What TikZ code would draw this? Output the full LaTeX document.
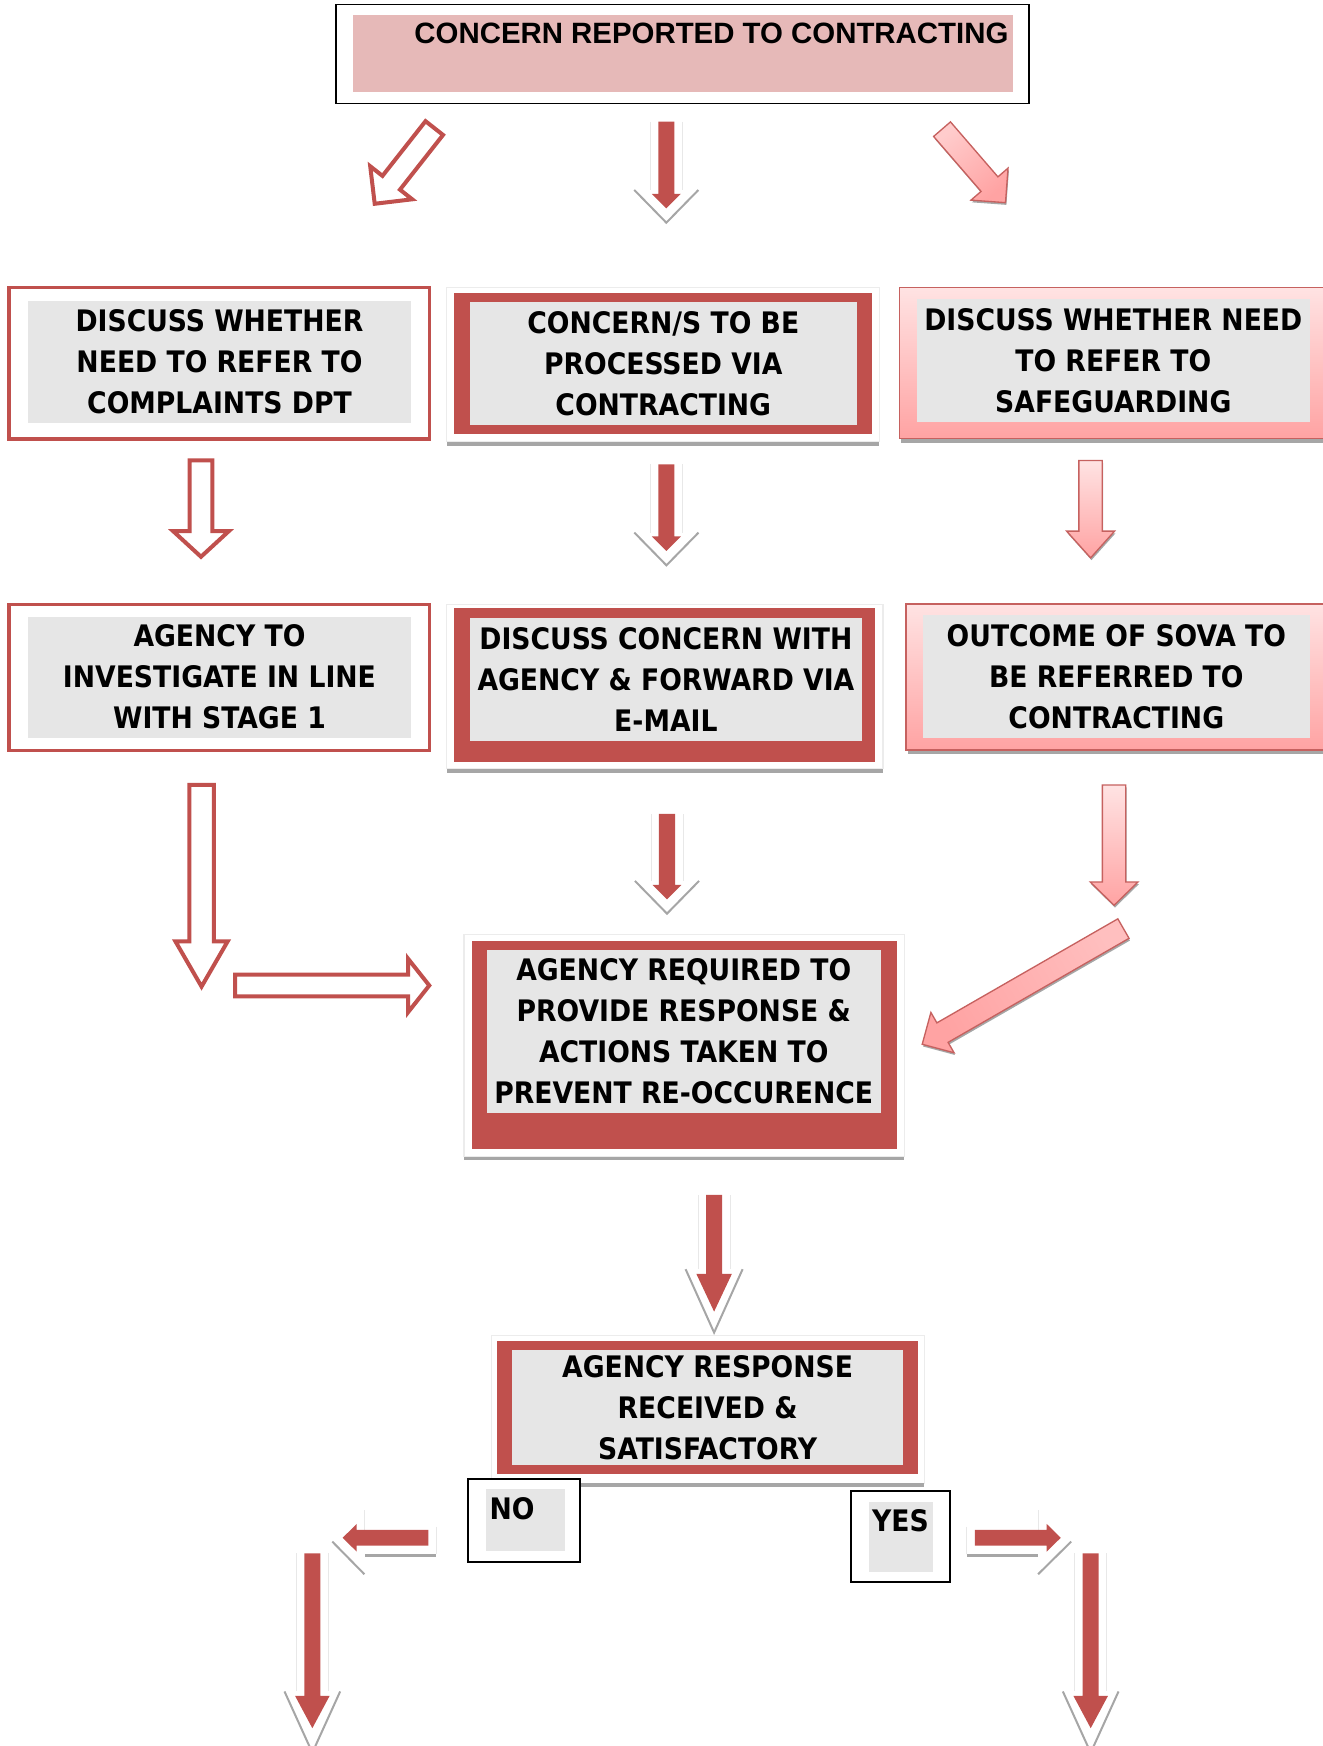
\documentclass[tikz,border=0pt]{standalone}
\usepackage{fontspec}
\newfontfamily\cajafont{DejaVu Sans Condensed}
\newfontfamily\titulofont{Liberation Sans}
\usetikzlibrary{calc}

\definecolor{rojo}{HTML}{C0504D}
\definecolor{grisclaro}{HTML}{E6E6E6}
\definecolor{rosa}{HTML}{E6B9B8}
\definecolor{rosaclaro}{HTML}{FFE3E3}
\definecolor{rosafuerte}{HTML}{FFA3A3}
\definecolor{sombra}{HTML}{A6A6A6}

% flecha de bloque: [estilo]{cola}{punta}{medio ancho}{medio ancho cabeza}{largo cabeza}
\newcommand{\flecha}[6][]{%
  \coordinate (fc) at ($(#3)!#6!(#2)$);
  \path[#1] ($(#2)!#4!90:(#3)$) -- ($(fc)!#4!90:(#3)$) -- ($(fc)!#5!90:(#3)$) -- (#3)
    -- ($(fc)!#5!-90:(#3)$) -- ($(fc)!#4!-90:(#3)$) -- ($(#2)!#4!-90:(#3)$) -- cycle;}

% halo gris: {cola}{punta}{medio ancho V}{base V antes de la punta}{punta V despues}
\newcommand{\halo}[5]{%
  \coordinate (hb) at ($(#2)!#4!(#1)$);
  \coordinate (ht) at ($(#2)!-#5!(#1)$);
  \draw[lineahalo] ($(#1)!7.2pt!90:(#2)$) -- ($(hb)!7.2pt!90:(ht)$);
  \draw[lineahalo] ($(#1)!7.2pt!-90:(#2)$) -- ($(hb)!7.2pt!-90:(ht)$);
  \draw[vgris] ($(hb)!#3!90:(ht)$) -- (ht) -- ($(hb)!#3!-90:(ht)$);}

\tikzset{
  cajagris/.style={fill=grisclaro, inner sep=0pt, align=center,
    font={\cajafont\bfseries\fontsize{13.3pt}{18.4pt}\selectfont}},
  marcorojo/.style={draw=rojo, line width=1.5pt},
  contenedor/.style={draw=gray!15, line width=0.5pt, fill=white},
  hueca/.style={draw=rojo, line width=1.8pt, fill=white},
  roja/.style={fill=rojo},
  rosada/.style={draw=rojo!90, line width=0.6pt, top color=rosaclaro, bottom color=rosafuerte},
  sombrarosa/.style={fill=sombra, transform canvas={xshift=0.4pt, yshift=-1pt}},
  vgris/.style={draw=sombra, line width=0.9pt},
  lineahalo/.style={draw=gray!18, line width=0.4pt},
  respuesta/.style={font={\cajafont\bfseries\fontsize{13.3pt}{16pt}\selectfont}, inner sep=0pt}
}

\begin{document}
\begin{tikzpicture}[x=0.5pt, y=-0.5pt]
  \useasboundingbox (0,0) rectangle (1188,1568);
  \clip (0,0) rectangle (1188,1568);

  % Caja superior
  \draw[line width=0.75pt] (302,4) rectangle (924,93);
  \node[fill=rosa, minimum width=296.5pt, minimum height=34.75pt, inner sep=0pt] (c0) at (613.5,48.25) {};
  \node[anchor=base east, inner sep=0pt, font={\titulofont\bfseries\fontsize{13.2pt}{15pt}\selectfont}]
    (c0t) at (906,38.9) {CONCERN REPORTED TO CONTRACTING};

  % Primera fila: queja, contratacion, proteccion
  \draw[marcorojo] (8.1,258.3) rectangle (385.5,394.2);
  \node[cajagris, minimum width=171.7pt, minimum height=54.75pt] (l1) at (197.1,324.75)
    {DISCUSS WHETHER\\NEED TO REFER TO\\COMPLAINTS DPT};

  \draw[contenedor] (401,258) rectangle (789.6,396.6);
  \fill[sombra] (401,396.6) rectangle (789.6,400.5);
  \fill[rojo] (408,262.8) rectangle (782.8,390);
  \node[cajagris, minimum width=173.65pt, minimum height=55.05pt] (m1) at (595.65,326.55)
    {CONCERN/S TO BE\\PROCESSED VIA\\CONTRACTING};

  \fill[sombra] (809.5,261.5) rectangle (1200,397.4);
  \draw[rosada] (807.6,258) rectangle (1200,393.6);
  \node[cajagris, minimum width=176.6pt, minimum height=54.95pt] (r1) at (999.8,323.75)
    {DISCUSS WHETHER NEED\\TO REFER TO\\SAFEGUARDING};

  % Flechas desde la caja superior
  \coordinate (a1c) at (390,115);    \coordinate (a1p) at (336.5,183);
  \coordinate (a2c) at (598.4,109.3); \coordinate (a2p) at (598.4,187.1);
  \coordinate (a3c) at (846,116);    \coordinate (a3p) at (903,182);
  \flecha[hueca]{a1c}{a1p}{5pt}{12pt}{12pt}
  \halo{a2c}{a2p}{14.4pt}{8.25pt}{6.45pt}
  \flecha[roja]{a2c}{a2p}{3.6pt}{6.5pt}{6.5pt}
  \flecha[sombrarosa]{a3c}{a3p}{5pt}{11pt}{11pt}
  \flecha[rosada, top color=rosafuerte!55!white, shading angle=40]{a3c}{a3p}{5pt}{11pt}{11pt}

  % Flechas hacia la segunda fila
  \coordinate (b1c) at (180.5,413.4); \coordinate (b1p) at (180.5,500);
  \coordinate (b2c) at (598.5,417);   \coordinate (b2p) at (598.5,494.8);
  \coordinate (b3c) at (979.4,413.6); \coordinate (b3p) at (979.4,501);
  \flecha[hueca]{b1c}{b1p}{5.1pt}{12.5pt}{11.5pt}
  \halo{b2c}{b2p}{14.4pt}{8.25pt}{6.45pt}
  \flecha[roja]{b2c}{b2p}{3.6pt}{6.5pt}{6.5pt}
  \flecha[sombrarosa]{b3c}{b3p}{5.25pt}{10.75pt}{12pt}
  \flecha[rosada]{b3c}{b3p}{5.25pt}{10.75pt}{12pt}

  % Segunda fila
  \draw[marcorojo] (8.1,542.7) rectangle (385.5,674.1);
  \node[cajagris, minimum width=171.7pt, minimum height=54.3pt] (l2) at (197.1,608.1)
    {AGENCY TO\\INVESTIGATE IN LINE\\WITH STAGE 1};

  \draw[contenedor] (401,543) rectangle (793,690.5);
  \fill[sombra] (401,690.5) rectangle (793,694.4);
  \fill[rojo] (408,546.3) rectangle (786,684.5);
  \node[cajagris, minimum width=176pt, minimum height=54.95pt] (m2) at (598,610.15)
    {DISCUSS CONCERN WITH\\AGENCY \& FORWARD VIA\\E-MAIL};

  \fill[sombra] (815.5,545.5) rectangle (1200,677);
  \draw[rosada] (813.6,542.4) rectangle (1200,673.5);
  \node[cajagris, minimum width=173.9pt, minimum height=55.05pt] (r2) at (1002.5,607.35)
    {OUTCOME OF SOVA TO\\BE REFERRED TO\\CONTRACTING};

  % Flechas hacia la caja central
  \coordinate (d1c) at (181,704.8);   \coordinate (d1p) at (181,886);
  \coordinate (d2c) at (211.1,885);   \coordinate (d2p) at (385.5,885);
  \coordinate (d3c) at (599,731);     \coordinate (d3p) at (599,807.6);
  \coordinate (d4c) at (1000.5,705);  \coordinate (d4p) at (1000.5,813);
  \coordinate (d5c) at (1008.9,833.9); \coordinate (d5p) at (828.2,937.8);
  \flecha[hueca]{d1c}{d1p}{5.5pt}{11.75pt}{20.35pt}
  \flecha[hueca]{d2c}{d2p}{4.85pt}{12pt}{9.5pt}
  \halo{d3c}{d3p}{14.4pt}{8.25pt}{6.45pt}
  \flecha[roja]{d3c}{d3p}{3.6pt}{6.5pt}{6.5pt}
  \flecha[sombrarosa]{d4c}{d4p}{5.25pt}{10.75pt}{10.5pt}
  \flecha[rosada]{d4c}{d4p}{5.25pt}{10.75pt}{10.5pt}
  \flecha[sombrarosa]{d5c}{d5p}{5.05pt}{10.45pt}{10.5pt}
  \flecha[rosada, top color=rosafuerte!70!white, shading angle=-60]{d5c}{d5p}{5.05pt}{10.45pt}{10.5pt}

  % Caja central
  \draw[contenedor] (416.7,839.6) rectangle (812,1038.8);
  \fill[sombra] (416.7,1038.8) rectangle (812,1041.7);
  \fill[rojo] (423.6,844.7) rectangle (805.2,1032.1);
  \node[cajagris, minimum width=177.05pt, minimum height=73.1pt] (m3) at (614.05,926.1)
    {AGENCY REQUIRED TO\\PROVIDE RESPONSE \&\\ACTIONS TAKEN TO\\PREVENT RE-OCCURENCE};

  \coordinate (e1c) at (641.3,1073); \coordinate (e1p) at (641.3,1177.9);
  \halo{e1c}{e1p}{12.8pt}{19.05pt}{9.4pt}
  \flecha[roja]{e1c}{e1p}{3.6pt}{8pt}{17pt}

  % Caja de respuesta
  \draw[contenedor] (441,1199) rectangle (830,1332);
  \fill[sombra] (441,1332) rectangle (830,1335);
  \fill[rojo] (446,1203.9) rectangle (824,1323.9);
  \node[cajagris, minimum width=175.5pt, minimum height=51.6pt] (m4) at (635.5,1263.9)
    {AGENCY RESPONSE\\RECEIVED \&\\SATISFACTORY};

  % Etiquetas NO / YES
  \draw[fill=white, line width=0.9pt] (420,1328) rectangle (521,1403);
  \fill[grisclaro] (436,1337) rectangle (507,1393);
  \node[respuesta, anchor=base west] (no) at (439.3,1364.3) {NO};
  \draw[fill=white, line width=0.9pt] (764,1339) rectangle (853,1421);
  \fill[grisclaro] (780,1348.5) rectangle (838,1411.3);
  \node[respuesta, anchor=base west] (yes) at (782.8,1375) {YES};

  % Flechas finales
  \coordinate (f1c) at (384.6,1381);  \coordinate (f1p) at (307.7,1381);
  \coordinate (f2c) at (875.5,1381);  \coordinate (f2p) at (952.6,1381);
  \coordinate (f3c) at (280.5,1394.9); \coordinate (f3p) at (280.5,1552);
  \coordinate (f4c) at (979.5,1394.9); \coordinate (f4p) at (979.5,1552);
  \draw[lineahalo] (327.2,1356) -- (327.2,1383);
  \draw[lineahalo] (391.5,1371) -- (391.5,1396);
  \draw[sombra, line width=1.3pt] (327.8,1397.3) -- (391.5,1397.3);
  \draw[vgris] (298.4,1384.4) -- (327.2,1413.7);
  \flecha[roja]{f1c}{f1p}{3.5pt}{6.2pt}{6.3pt}
  \draw[lineahalo] (932.3,1356) -- (932.3,1383);
  \draw[lineahalo] (868,1371) -- (868,1396);
  \draw[sombra, line width=1.3pt] (868,1397.3) -- (932,1397.3);
  \draw[vgris] (962,1384.4) -- (932.3,1413.7);
  \flecha[roja]{f2c}{f2p}{3.5pt}{6.2pt}{6.3pt}
  \halo{f3c}{f3p}{12.5pt}{16.5pt}{11pt}
  \flecha[roja]{f3c}{f3p}{3.6pt}{7.75pt}{14.5pt}
  \halo{f4c}{f4p}{12.5pt}{16.5pt}{11pt}
  \flecha[roja]{f4c}{f4p}{3.6pt}{7.75pt}{14.5pt}
\end{tikzpicture}
\end{document}
